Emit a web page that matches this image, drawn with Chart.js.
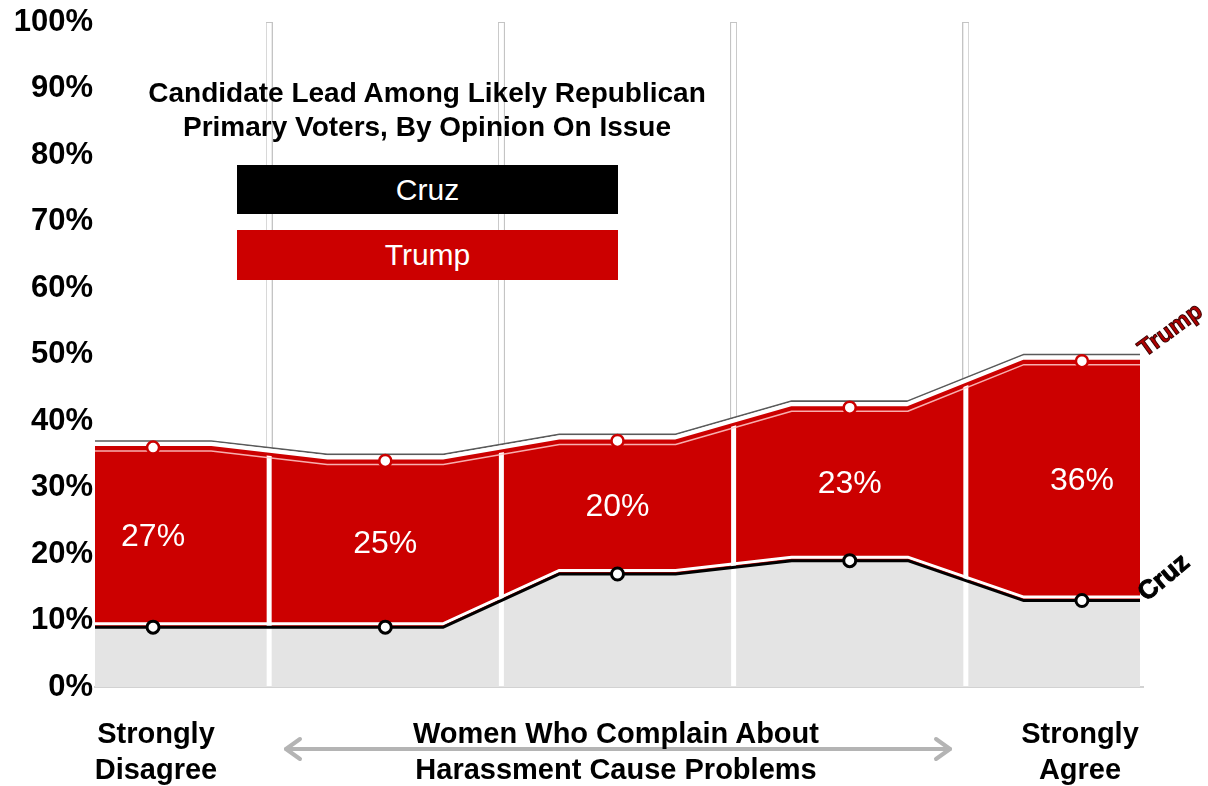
<!DOCTYPE html>
<html>
<head>
<meta charset="utf-8">
<script src="https://cdn.jsdelivr.net/npm/chart.js@4.4.1/dist/chart.umd.min.js"></script>
<style>
  html, body { margin: 0; padding: 0; background: #fff; }
  #wrap { position: relative; width: 1208px; height: 786px; font-family: 'Liberation Sans', Arial, sans-serif; overflow: hidden; }
  #c { position: absolute; left: 0; top: 0; }
  .title { position: absolute; left: 97px; width: 660px; top: 76px; text-align: center; font-weight: bold;
           font-size: 28px; line-height: 34px; letter-spacing: 0; color: #000; }
  .key { position: absolute; left: 237px; width: 381px; color: #fff; font-size: 30px; text-align: center; }
  .note { position: absolute; top: 715px; text-align: center; font-weight: bold; font-size: 29px;
          line-height: 36px; color: #000; white-space: nowrap; }
  #arrow { position: absolute; left: 0; top: 0; }
</style>
</head>
<body>
<div id="wrap">
  <canvas id="c" width="1208" height="786"></canvas>
  <svg id="arrow" width="1208" height="786">
    <g stroke="#b4b4b4" stroke-width="4" fill="none" stroke-linecap="round" stroke-linejoin="round">
      <line x1="286" y1="749" x2="950" y2="749"/>
      <polyline points="300,739 286,749 300,759"/>
      <polyline points="936,739 950,749 936,759"/>
    </g>
  </svg>
</div>
<script>
// Five opinion levels, from "Strongly Disagree" (0) to "Strongly Agree" (4)
const scalePoints = [0, 1, 2, 3, 4];
const seriesNames = ['Cruz', 'Trump'];
const seriesColors = ['#000000', '#cc0000'];
const cruzShare = [9, 9, 17, 19, 13];
const trumpShare = [36, 34, 37, 42, 49];
const yTicks = [0, 10, 20, 30, 40, 50, 60, 70, 80, 90, 100];
const chartTitle = ['Candidate Lead Among Likely Republican', 'Primary Voters, By Opinion On Issue'];
const scaleEnds = [['Strongly', 'Disagree'], ['Strongly', 'Agree']];
const issueText = ['Women Who Complain About', 'Harassment Cause Problems'];

const wrap = document.getElementById('wrap');

// Title
const t = document.createElement('div');
t.className = 'title';
t.innerHTML = chartTitle.join('<br>');
wrap.appendChild(t);

// Colour keys
const keyTops = [165, 230];
const keyHeights = [49, 50];
seriesNames.forEach((name, i) => {
  const k = document.createElement('div');
  k.className = 'key';
  k.style.top = keyTops[i] + 'px';
  k.style.height = keyHeights[i] + 'px';
  k.style.lineHeight = keyHeights[i] + 'px';
  k.style.background = seriesColors[i];
  k.textContent = name;
  wrap.appendChild(k);
});

// Notes under the horizontal axis
function note(lines, centerX) {
  const d = document.createElement('div');
  d.className = 'note';
  d.style.left = (centerX - 250) + 'px';
  d.style.width = '500px';
  d.innerHTML = lines.join('<br>');
  wrap.appendChild(d);
}
note(scaleEnds[0], 156);
note(issueText, 616);
note(scaleEnds[1], 1080);

// Each level is drawn as a short flat shelf around its position
const HALF = 0.25;
function shelf(values) {
  const pts = [];
  values.forEach((v, i) => {
    const x = scalePoints[i];
    pts.push({ x: x - HALF, y: v }, { x: x, y: v, mark: true }, { x: x + HALF, y: v });
  });
  return pts;
}
const cruzPts = shelf(cruzShare);
const trumpPts = shelf(trumpShare);
const markOnly = r => (c) => (c.raw && c.raw.mark ? r : 0);
const boundaries = scalePoints.slice(1).map((p, i) => (p + scalePoints[i]) / 2);

const base = { pointRadius: 0, tension: 0, fill: false, borderJoinStyle: 'round' };

const datasets = [
  Object.assign({}, base, { label: 'Cruz area', data: cruzPts, fill: 'origin', backgroundColor: '#e4e4e4', borderWidth: 0, order: 10 }),
  Object.assign({}, base, { label: 'Trump area', data: trumpPts, fill: 0, backgroundColor: '#cc0000', borderWidth: 0, order: 9 }),
  Object.assign({}, base, { label: 'Trump rim', data: trumpPts, borderColor: '#5a5a5a', borderWidth: 1.8, shiftY: -6.5, order: 6 }),
  Object.assign({}, base, { label: 'Trump halo', data: trumpPts, borderColor: '#ffffff', borderWidth: 4.5, shiftY: -3.5, order: 5 }),
  Object.assign({}, base, { label: 'Trump sheen', data: trumpPts, borderColor: 'rgba(255,205,205,0.85)', borderWidth: 1.5, shiftY: 3.5, order: 4 }),
  Object.assign({}, base, { label: 'Cruz halo', data: cruzPts, borderColor: '#ffffff', borderWidth: 3, shiftY: -3.5, order: 3 }),
  Object.assign({}, base, { label: seriesNames[0], data: cruzPts, borderColor: seriesColors[0], borderWidth: 3,
    pointRadius: markOnly(6), pointBackgroundColor: '#ffffff', pointBorderColor: '#000000', pointBorderWidth: 3, order: 2 }),
  Object.assign({}, base, { label: seriesNames[1], data: trumpPts, borderColor: seriesColors[1], borderWidth: 3,
    pointRadius: markOnly(6), pointBackgroundColor: '#ffffff', pointBorderColor: '#cc0000', pointBorderWidth: 2.5, order: 1 })
];
const CRUZ_LINE = 6, TRUMP_LINE = 7, TRUMP_AREA = 1;

const layering = {
  id: 'layering',
  beforeDatasetDraw(chart, args) {
    const ds = chart.data.datasets[args.index];
    if (ds.shiftY) { chart.ctx.save(); chart.ctx.translate(0, ds.shiftY); }
  },
  afterDatasetDraw(chart, args) {
    const ds = chart.data.datasets[args.index];
    const ctx = chart.ctx;
    if (ds.shiftY) { ctx.restore(); }
    if (args.index === TRUMP_AREA) {
      // white separators between the opinion levels
      const xs = chart.scales.x, a = chart.chartArea;
      ctx.save();
      ctx.strokeStyle = '#ffffff';
      ctx.lineWidth = 5;
      xs.ticks.forEach(tk => {
        const px = xs.getPixelForValue(tk.value);
        ctx.beginPath(); ctx.moveTo(px, a.top + 1); ctx.lineTo(px, a.bottom - 1); ctx.stroke();
      });
      ctx.restore();
    }
  },
  afterDatasetsDraw(chart) {
    const ctx = chart.ctx, xs = chart.scales.x, ys = chart.scales.y;
    ctx.save();
    // lead of Trump over Cruz at each level
    ctx.fillStyle = '#ffffff';
    ctx.font = '32px "Liberation Sans", Arial, sans-serif';
    ctx.textAlign = 'center';
    ctx.textBaseline = 'middle';
    scalePoints.forEach((p, i) => {
      const lead = trumpShare[i] - cruzShare[i];
      ctx.fillText(lead + '%', xs.getPixelForValue(p), ys.getPixelForValue((trumpShare[i] + cruzShare[i]) / 2));
    });
    // series names at the right ends of the lines
    const ends = [
      { idx: CRUZ_LINE, name: seriesNames[0], fill: '#000000', stroke: '#000000', dx: 2, dy: -4, size: 26, angle: -40 },
      { idx: TRUMP_LINE, name: seriesNames[1], fill: '#b00000', stroke: '#3a0000', dx: 1, dy: -9, size: 24, angle: -36 }
    ];
    ctx.textAlign = 'left';
    ends.forEach(e => {
      const pts = chart.getDatasetMeta(e.idx).data;
      const last = pts[pts.length - 1];
      ctx.save();
      ctx.font = 'bold ' + e.size + 'px "Liberation Sans", Arial, sans-serif';
      ctx.translate(last.x + e.dx, last.y + e.dy);
      ctx.rotate(e.angle * Math.PI / 180);
      ctx.lineWidth = 1;
      ctx.strokeStyle = e.stroke;
      ctx.fillStyle = e.fill;
      ctx.fillText(e.name, 0, 0);
      ctx.strokeText(e.name, 0, 0);
      ctx.restore();
    });
    ctx.restore();
  }
};

new Chart(document.getElementById('c'), {
  type: 'line',
  data: { datasets },
  options: {
    responsive: false,
    animation: false,
    events: [],
    layout: { padding: { top: 22, right: 68, bottom: 99, left: 0 } },
    plugins: { legend: { display: false }, tooltip: { enabled: false }, title: { display: false } },
    scales: {
      x: {
        type: 'linear',
        min: scalePoints[0] - HALF,
        max: scalePoints[scalePoints.length - 1] + HALF,
        afterBuildTicks: (s) => { s.ticks = boundaries.map(v => ({ value: v })); },
        ticks: { display: false },
        grid: { color: '#c4c4c4', lineWidth: 7, drawTicks: false },
        border: { display: true, color: '#d2d2d2', width: 2 },
        afterFit: (s) => { s.height = 0; }
      },
      y: {
        min: yTicks[0],
        max: yTicks[yTicks.length - 1],
        afterBuildTicks: (s) => { s.ticks = yTicks.map(v => ({ value: v })); },
        ticks: {
          color: '#000',
          padding: 2,
          font: { family: '"Liberation Sans", Arial, sans-serif', size: 31, weight: 'bold' },
          callback: (v) => v + '%'
        },
        grid: { display: false, drawTicks: false },
        border: { display: false },
        afterFit: (s) => { s.width = 95; }
      }
    }
  },
  plugins: [layering]
});
</script>
</body>
</html>
